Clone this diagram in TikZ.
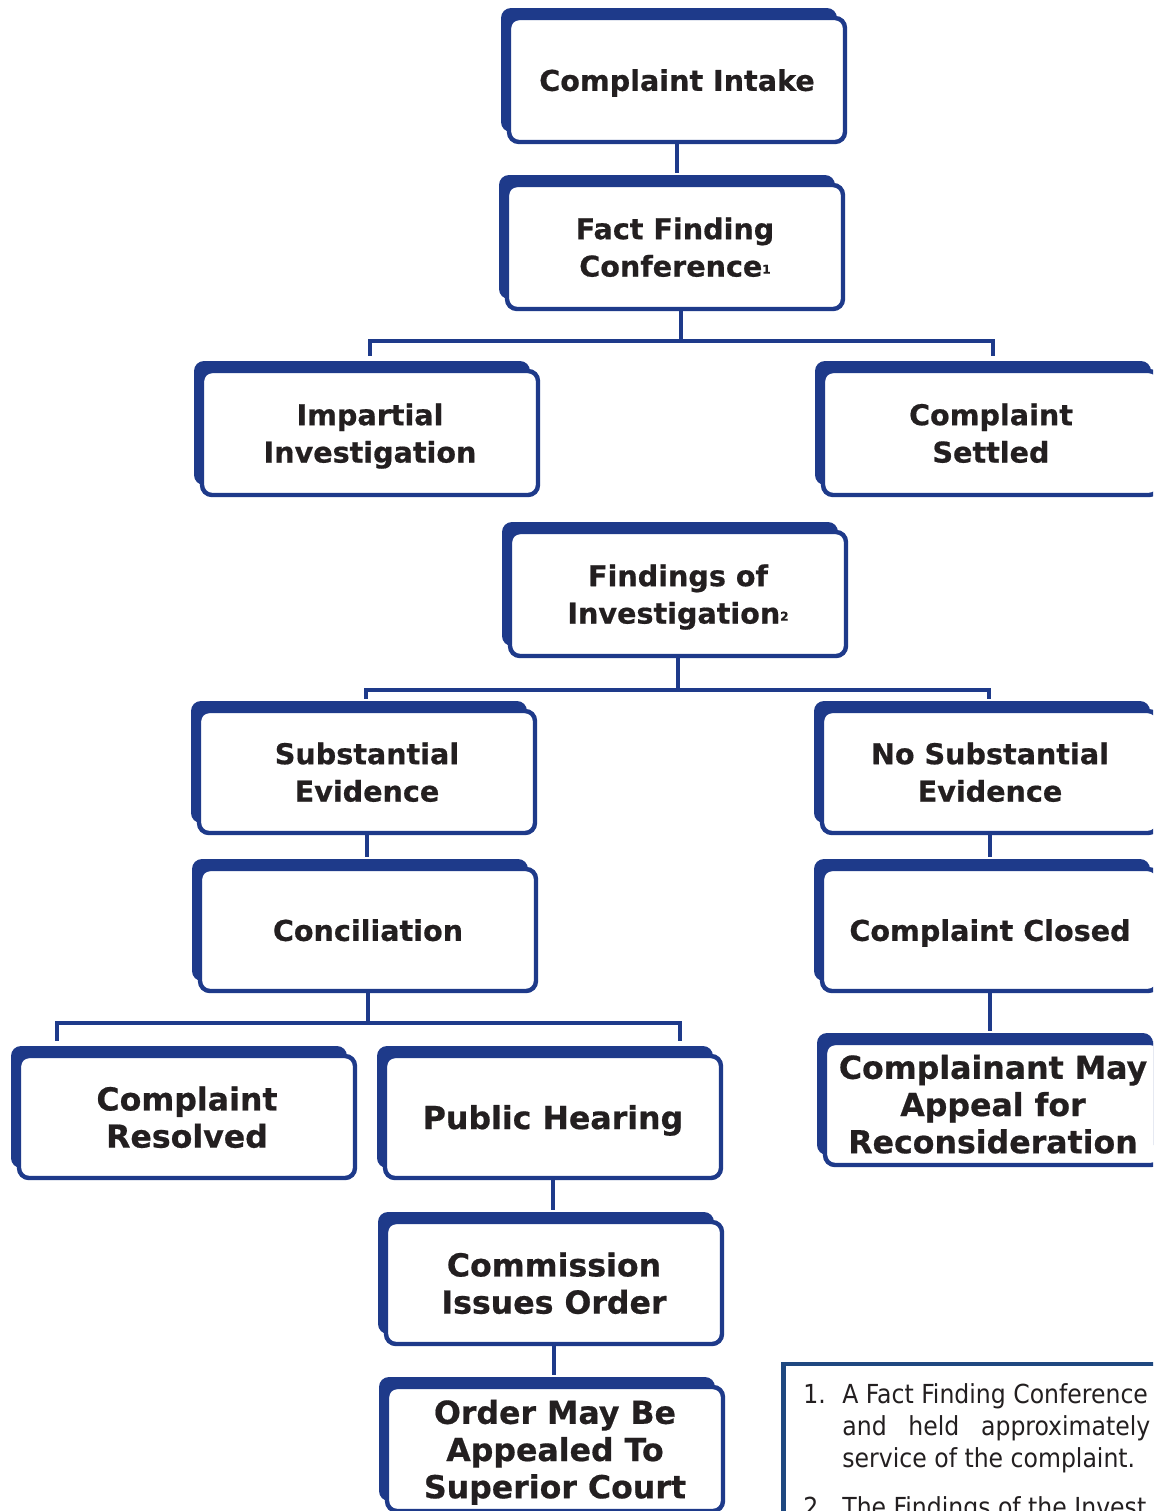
\documentclass[tikz,border=0pt]{standalone}
\usepackage{fontspec}
\setmainfont{DejaVu Sans}
\newfontfamily\boxfont{DejaVu Sans}[BoldFont={DejaVu Sans Bold}, BoldFeatures={FakeBold=0.6}]
\newfontfamily\notefont{DejaVu Sans Condensed}
\usetikzlibrary{shadows,calc}
\definecolor{navy}{RGB}{30,58,138}
\definecolor{notenavy}{RGB}{31,72,128}
\definecolor{ink}{RGB}{35,31,32}
\tikzset{
  flowbox/.style={draw=navy, line width=2.2pt, fill=white, rounded corners=5pt,
    minimum width=168pt, minimum height=62pt, inner sep=0pt, align=center,
    text=ink, text depth=0pt, font=\boxfont\bfseries\fontsize{14.3}{18.7}\selectfont,
    general shadow={shadow xshift=-4pt, shadow yshift=5pt, fill=navy}},
  bigbox/.style={flowbox, minimum height=61pt,
    font=\boxfont\bfseries\fontsize{15.8}{18.6}\selectfont},
  conn/.style={draw=navy, line width=2pt, line join=miter},
  notetext/.style={anchor=base west, inner sep=0pt, text=ink,
    font=\notefont\fontsize{13.1}{16}\selectfont}
}
\newcommand{\supmark}[1]{{\fontsize{6}{6}\selectfont\raisebox{1.5pt}{#1}}}
\begin{document}
\begin{tikzpicture}[x=0.5pt,y=-0.5pt]
\useasboundingbox (0,0) rectangle (1153,1511);
\clip (0,0) rectangle (1153,1511);
\fill[white] (0,0) rectangle (1153,1511);

% boxes
\node[flowbox] (intake) at (677,80) {Complaint Intake};
\node[flowbox] (ffc) at (675,247) {Fact Finding\\Conference\supmark{1}};
\node[flowbox] (imp) at (370,433) {Impartial\\Investigation};
\node[flowbox] (set) at (991,433) {Complaint\\Settled};
\node[flowbox] (fin) at (678,594) {Findings of\\Investigation\supmark{2}};
\node[flowbox, minimum height=61pt] (sub) at (367,772) {Substantial\\Evidence};
\node[flowbox, minimum height=61pt] (nosub) at (990,772) {No Substantial\\Evidence};
\node[flowbox, minimum height=61pt] (conc) at (368,930) {Conciliation};
\node[flowbox, minimum height=61pt] (closed) at (990,930) {Complaint Closed};
\node[bigbox] (res) at (187,1117) {Complaint\\Resolved};
\node[bigbox] (ph) at (553,1117) {Public Hearing};
\node[bigbox] (app) at (993,1104) {Complainant May\\Appeal for\\Reconsideration};
\node[bigbox] (com) at (554,1283) {Commission\\Issues Order};
\node[bigbox, minimum height=62pt] (ord) at (555,1449) {Order May Be\\Appealed To\\Superior Court};

% connectors
\coordinate (bar1) at (681,341);
\coordinate (bar2) at (678,690);
\coordinate (bar3) at (368,1023);
\draw[conn] (intake.south) -- ([yshift=5pt]intake.south |- ffc.north);
\draw[conn] (ffc.south -| bar1) -- (bar1);
\draw[conn] ([yshift=6.5pt]imp.north) |- (bar1) -| ([yshift=6.5pt,xshift=1pt]set.north);
\draw[conn] (fin.south) -- (bar2);
\draw[conn] ([yshift=5pt,xshift=-0.5pt]sub.north) |- (bar2) -| ([yshift=5pt,xshift=-0.5pt]nosub.north);
\draw[conn] (sub.south) -- ([yshift=5pt]sub.south |- conc.north);
\draw[conn] (nosub.south) -- ([yshift=5pt]nosub.south |- closed.north);
\draw[conn] (closed.south) -- ([yshift=5pt]closed.south |- app.north);
\draw[conn] (conc.south) -- (bar3);
\draw[conn] ([yshift=6.5pt,xshift=-65pt]res.north) |- (bar3) -| ([yshift=6.5pt,xshift=63.5pt]ph.north);
\draw[conn] (ph.south) -- ([yshift=5pt]ph.south |- com.north);
\draw[conn] (com.south) -- ([yshift=5pt]com.south |- ord.north);

% footnote panel
\coordinate (ncorner) at (783.5,1364);
\draw[draw=notenavy, line width=2.3pt, line join=miter] (ncorner |- 0,1520) -- (ncorner) -- (1160,1364);
\node[notetext] (n1) at (803,1403) {1.};
\node[notetext] (t1) at (842,1403) {A Fact Finding Conference};
\node[notetext] (t2) at (842,1435) {\makebox[154pt][s]{and held approximately}};
\node[notetext] (t3) at (842,1467) {service of the complaint.};
\node[notetext] (n2) at (803,1516) {2.};
\node[notetext] (t4) at (842,1516) {The Findings of the Invest};
\end{tikzpicture}
\end{document}
